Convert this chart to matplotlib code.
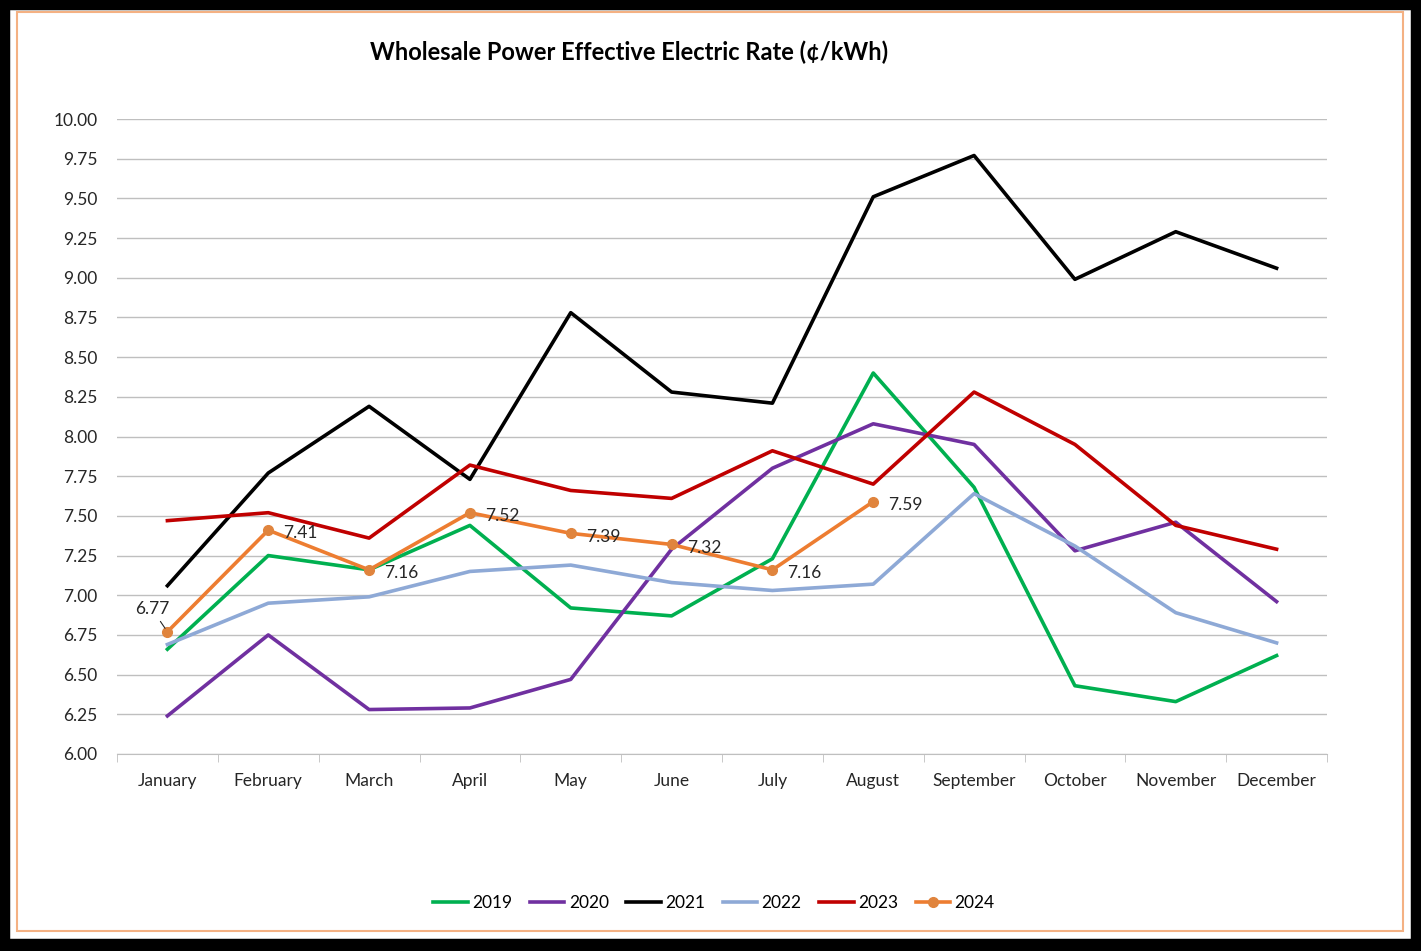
import matplotlib.pyplot as plt
from matplotlib.patches import Rectangle

months = ['January', 'February', 'March', 'April', 'May', 'June', 'July',
          'August', 'September', 'October', 'November', 'December']

y2019 = [6.66, 7.25, 7.16, 7.44, 6.92, 6.87, 7.23, 8.40, 7.68, 6.43, 6.33, 6.62]
y2020 = [6.24, 6.75, 6.28, 6.29, 6.47, 7.29, 7.80, 8.08, 7.95, 7.28, 7.46, 6.96]
y2021 = [7.06, 7.77, 8.19, 7.73, 8.78, 8.28, 8.21, 9.51, 9.77, 8.99, 9.29, 9.06]
y2022 = [6.69, 6.95, 6.99, 7.15, 7.19, 7.08, 7.03, 7.07, 7.64, 7.31, 6.89, 6.70]
y2023 = [7.47, 7.52, 7.36, 7.82, 7.66, 7.61, 7.91, 7.70, 8.28, 7.95, 7.44, 7.29]
y2024 = [6.77, 7.41, 7.16, 7.52, 7.39, 7.32, 7.16, 7.59]

plt.rcParams['font.family'] = ['Lato', 'DejaVu Sans']

fig = plt.figure(figsize=(14.21, 9.51), dpi=100)
ax = fig.add_axes([117 / 1421, 1 - 754 / 951, 1210 / 1421, 635 / 951])

x = list(range(len(months)))
lw = 2.6
ax.plot(x, y2019, color='#00B050', lw=lw, label='2019')
ax.plot(x, y2020, color='#7030A0', lw=lw, label='2020')
ax.plot(x, y2021, color='#000000', lw=lw, label='2021')
ax.plot(x, y2022, color='#8EA9D6', lw=lw, label='2022')
ax.plot(x, y2023, color='#C00000', lw=lw, label='2023')
ax.plot(x[:len(y2024)], y2024, color='#ED7D31', lw=lw, marker='o', ms=7,
        mfc='#E0843D', mec='#E0843D', label='2024')

# 数据标签
for i, v in enumerate(y2024):
    if i == 0:
        ax.annotate(f'{v:.2f}', xy=(i, v), xytext=(-0.15, v + 0.09),
                    fontsize=12.5, color='#262626', ha='center', va='bottom',
                    arrowprops=dict(arrowstyle='-', color='#262626', lw=0.8,
                                    shrinkA=1, shrinkB=3))
    else:
        ax.text(i + 0.15, v - 0.02, f'{v:.2f}', fontsize=12.5,
                color='#262626', ha='left', va='center')

ax.set_xlim(-0.5, 11.5)
ax.set_ylim(6, 10)
ax.set_yticks([6 + 0.25 * k for k in range(17)])
ax.set_yticklabels([f'{6 + 0.25 * k:.2f}' for k in range(17)])
ax.grid(axis='y', color='#BFBFBF', lw=1)
ax.set_axisbelow(True)
ax.set_xticks(x)
ax.set_xticklabels(months)
ax.set_xticks([k - 0.5 for k in range(13)], minor=True)
ax.tick_params(axis='x', which='major', length=0, pad=14, labelsize=12.5,
               labelcolor='#262626')
ax.tick_params(axis='x', which='minor', length=6, color='#BFBFBF')
ax.tick_params(axis='y', length=0, pad=14, labelsize=12.5, labelcolor='#262626')
for s in ['top', 'right', 'left']:
    ax.spines[s].set_visible(False)
ax.spines['bottom'].set_color('#BFBFBF')

fig.text(629 / 1421, 1 - 52 / 951, 'Wholesale Power Effective Electric Rate (¢/kWh)',
         ha='center', va='center', fontsize=17, fontweight='bold')

fig.legend(loc='center', bbox_to_anchor=(714 / 1421, 1 - 903 / 951), ncol=6,
           frameon=False, fontsize=12.5, handlelength=2.0, handletextpad=0.25,
           columnspacing=1.0)

# 边框
fig.patches.append(Rectangle((0, 3 / 951), 1 - 1 / 1421, 1 - 3 / 951,
                             transform=fig.transFigure, fill=False,
                             ec='black', lw=14))
fig.patches.append(Rectangle((17 / 1421, 20 / 951), 1386 / 1421, 919 / 951,
                             transform=fig.transFigure, fill=False,
                             ec='#F4B183', lw=1.5))

fig.savefig('out.png', dpi=100)
